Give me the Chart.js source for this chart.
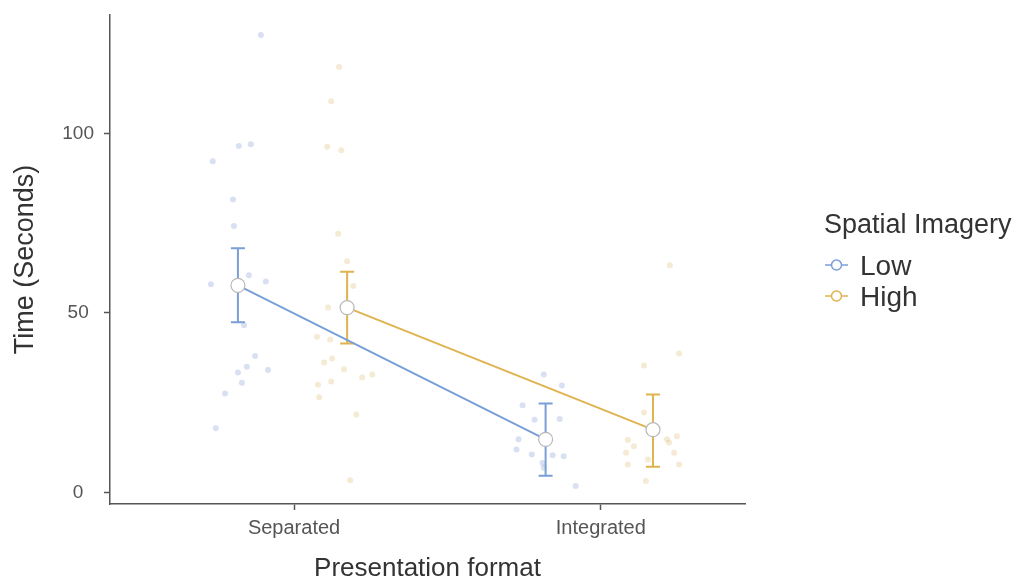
<!DOCTYPE html>
<html>
<head>
<meta charset="utf-8">
<script src="https://cdn.jsdelivr.net/npm/chart.js@4.4.1/dist/chart.umd.min.js"></script>
<style>
  html, body { margin: 0; padding: 0; background: #fff; }
  #wrap { position: relative; width: 1029px; height: 585px; }
</style>
</head>
<body>
<div id="wrap"><canvas id="chart" width="1029" height="585"></canvas></div>
<script>
// categories and tick labels
const categories = ["Separated", "Integrated"];
const yTicks = [0, 50, 100];
const groups = ["Low", "High"];

// group means (x position includes dodge) and error bar limits
const lowMeanX = [0.817, 1.82];
const lowMean = [57.7, 14.8];
const lowLower = [47.4, 4.7];
const lowUpper = [68.0, 24.8];
const highMeanX = [1.173, 2.17];
const highMean = [51.5, 17.5];
const highLower = [41.5, 7.2];
const highUpper = [61.5, 27.3];

const lowSepX = [0.892, 0.820, 0.859, 0.735, 0.801, 0.804, 0.729, 0.908, 0.853, 0.837, 0.873, 0.846, 0.817, 0.830, 0.915, 0.775, 0.745];
const lowSepY = [127.4, 96.5, 97.0, 92.3, 81.6, 74.2, 58.0, 58.8, 60.5, 46.6, 38.0, 35.0, 33.4, 30.6, 34.1, 27.6, 17.9];
const highSepX = [1.147, 1.121, 1.108, 1.154, 1.144, 1.173, 1.193, 1.111, 1.075, 1.118, 1.124, 1.098, 1.163, 1.222, 1.255, 1.078, 1.121, 1.082, 1.203, 1.183];
const highSepY = [118.5, 109.0, 96.3, 95.3, 72.1, 64.4, 57.5, 51.5, 43.4, 42.6, 37.3, 36.2, 34.3, 32.0, 32.9, 30.0, 30.9, 26.5, 21.7, 3.4];
const lowIntX = [1.814, 1.873, 1.745, 1.784, 1.866, 1.732, 1.725, 1.775, 1.843, 1.879, 1.810, 1.814, 1.918];
const lowIntY = [32.9, 29.8, 24.3, 20.3, 20.5, 14.8, 12.0, 10.6, 10.4, 10.1, 8.2, 6.9, 1.8];
const highIntX = [2.225, 2.255, 2.141, 2.141, 2.088, 2.108, 2.216, 2.248, 2.222, 2.082, 2.239, 2.154, 2.088, 2.255, 2.147];
const highIntY = [63.3, 38.7, 35.4, 22.3, 14.6, 12.9, 14.8, 15.7, 13.9, 11.1, 11.1, 9.2, 7.8, 7.8, 3.2];

const lowColor = "#7a9ed6";
const highColor = "#dfb34f";
const lowDot = "rgba(120,145,205,0.28)";
const highDot = "rgba(220,180,100,0.28)";
const fontFam = "'Liberation Sans', Arial, sans-serif";

function pts(xs, ys) {
  return xs.map((x, i) => ({ x: x, y: ys[i] }));
}

function dots(label, xs, ys, color) {
  return {
    type: "scatter",
    label: label,
    data: pts(xs, ys),
    backgroundColor: color,
    borderWidth: 0,
    pointRadius: 3,
    order: 3,
  };
}

function meanLine(label, xs, ys, lo, hi, color) {
  return {
    type: "line",
    label: label,
    data: pts(xs, ys),
    borderColor: color,
    borderWidth: 2,
    pointRadius: 7,
    pointBackgroundColor: "#ffffff",
    pointBorderColor: "#b8b8b8",
    pointBorderWidth: 1.2,
    tension: 0,
    lower: lo,
    upper: hi,
    order: 1,
  };
}

// error bars drawn just before the mean lines, so the hollow points sit on top
const errorBars = {
  id: "errorBars",
  beforeDatasetDraw(chart, args) {
    const ds = chart.data.datasets[args.index];
    if (!ds.lower || chart._errDone) return;
    chart._errDone = true;
    const ctx = chart.ctx;
    const xs = chart.scales.x, ys = chart.scales.y;
    chart.data.datasets.forEach((d) => {
      if (!d.lower) return;
      ctx.save();
      ctx.strokeStyle = d.borderColor;
      ctx.lineWidth = 2;
      d.data.forEach((p, i) => {
        const px = xs.getPixelForValue(p.x);
        const y1 = ys.getPixelForValue(d.lower[i]);
        const y2 = ys.getPixelForValue(d.upper[i]);
        ctx.beginPath();
        ctx.moveTo(px, y1); ctx.lineTo(px, y2);
        ctx.moveTo(px - 7, y1); ctx.lineTo(px + 7, y1);
        ctx.moveTo(px - 7, y2); ctx.lineTo(px + 7, y2);
        ctx.stroke();
      });
      ctx.restore();
    });
  },
  afterDraw(chart) { chart._errDone = false; },
};

// legend on the right side
const sideLegend = {
  id: "sideLegend",
  afterDraw(chart) {
    const ctx = chart.ctx;
    ctx.save();
    ctx.fillStyle = "#333333";
    ctx.font = "27px " + fontFam;
    ctx.textBaseline = "alphabetic";
    ctx.fillText("Spatial Imagery", 824, 233);
    [lowColor, highColor].forEach((c, i) => {
      const y = 265 + i * 31;
      ctx.strokeStyle = c;
      ctx.lineWidth = 1.5;
      ctx.beginPath();
      ctx.moveTo(825, y); ctx.lineTo(848, y);
      ctx.stroke();
      ctx.beginPath();
      ctx.fillStyle = "#ffffff";
      ctx.arc(836.5, y, 5, 0, Math.PI * 2);
      ctx.fill();
      ctx.stroke();
      ctx.fillStyle = "#333333";
      ctx.font = "28px " + fontFam;
      ctx.fillText(groups[i], 860, y + 10);
    });
    ctx.restore();
  },
};

const config = {
  data: {
    datasets: [
      dots("Low", lowSepX, lowSepY, lowDot),
      dots("Low", lowIntX, lowIntY, lowDot),
      dots("High", highSepX, highSepY, highDot),
      dots("High", highIntX, highIntY, highDot),
      meanLine("Low", lowMeanX, lowMean, lowLower, lowUpper, lowColor),
      meanLine("High", highMeanX, highMean, highLower, highUpper, highColor),
    ],
  },
  options: {
    responsive: false,
    animation: false,
    layout: { padding: { top: 15, right: 284, left: 0, bottom: 0 } },
    plugins: {
      legend: { display: false },
      tooltip: { enabled: false },
    },
    scales: {
      x: {
        type: "linear",
        min: 0.4,
        max: 2.47,
        afterBuildTicks: (s) => { s.ticks = [1, 2].map((v) => ({ value: v })); },
        afterFit: (s) => { s.height = 81; s.paddingLeft = 0; s.paddingRight = 0; },
        ticks: {
          callback: (v) => categories[v - 1],
          color: "#555555",
          font: { family: fontFam, size: 20 },
          padding: 6,
          maxRotation: 0,
        },
        grid: { drawOnChartArea: false, tickLength: 6, color: "#555555", tickWidth: 1.5 },
        border: { color: "#555555", width: 1.5 },
        title: {
          display: true,
          text: "Presentation format",
          color: "#333333",
          font: { family: fontFam, size: 26 },
          padding: { top: 0, bottom: 1 },
        },
      },
      y: {
        min: -3.2,
        max: 133,
        afterBuildTicks: (s) => { s.ticks = yTicks.map((v) => ({ value: v })); },
        afterFit: (s) => { s.width = 110; s.paddingTop = 0; s.paddingBottom = 0; },
        ticks: {
          color: "#555555",
          font: { family: fontFam, size: 19 },
          padding: 10,
          crossAlign: "center",
        },
        grid: { drawOnChartArea: false, tickLength: 6, color: "#555555", tickWidth: 1.5 },
        border: { color: "#555555", width: 1.5 },
        title: {
          display: true,
          text: "Time (Seconds)",
          color: "#333333",
          font: { family: fontFam, size: 27 },
          padding: { top: 9, bottom: 0 },
        },
      },
    },
  },
  plugins: [errorBars, sideLegend],
};

const chart = new Chart(document.getElementById("chart"), config);
</script>
</body>
</html>
